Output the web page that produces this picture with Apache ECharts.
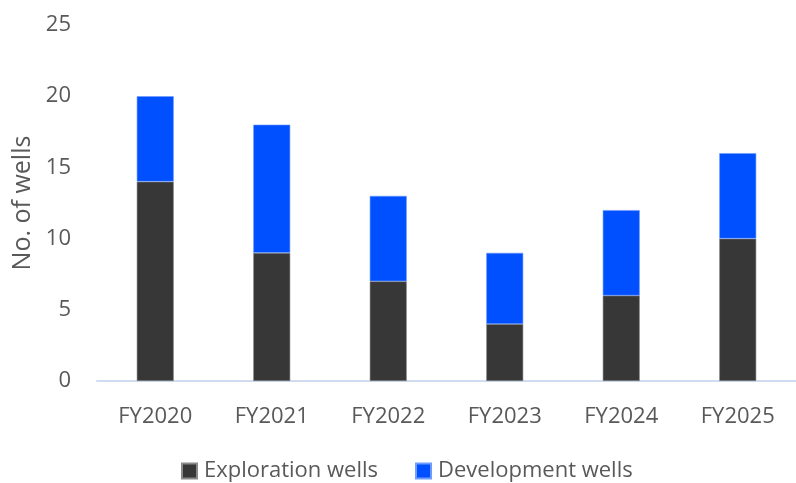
<!DOCTYPE html>
<html><head><meta charset="utf-8">
<script src="https://cdn.jsdelivr.net/npm/echarts@6/dist/echarts.min.js"></script>
<style>html,body{margin:0;padding:0;background:#fff}#c{width:796px;height:483px}</style>
</head><body><div id="c"></div>
<script>
const categories = ['FY2020','FY2021','FY2022','FY2023','FY2024','FY2025'];
const exploration = [14, 9, 7, 4, 6, 10];
const development = [6, 9, 6, 5, 6, 6];
const yTicks = [0, 5, 10, 15, 20, 25];

const chart = echarts.init(document.getElementById('c'));
const font = '"Open Sans", "Noto Sans", sans-serif';
chart.setOption({
  animation: false,
  grid: { left: 97, top: 25, width: 706, height: 356, containLabel: false },
  legend: {
    top: 455, left: 176,
    itemWidth: 15, itemHeight: 15, itemGap: 37,
    icon: 'rect',
    textStyle: { fontFamily: font, fontSize: 22, color: '#595959', padding: [0, 0, 0, 2] },
    data: ['Exploration wells', 'Development wells']
  },
  xAxis: {
    type: 'category', data: categories,
    axisLine: { lineStyle: { color: '#d0dcf2', width: 2 } },
    axisTick: { show: false },
    axisLabel: { fontFamily: font, fontSize: 22, color: '#595959', margin: 25 }
  },
  yAxis: {
    type: 'value', min: 0, max: 25, interval: 5,
    name: 'No. of wells', nameLocation: 'middle', nameGap: 55, nameRotate: 90,
    nameTextStyle: { fontFamily: font, fontSize: 25, color: '#595959' },
    splitLine: { show: false },
    axisLine: { show: false },
    axisTick: { show: false },
    axisLabel: { fontFamily: font, fontSize: 22, color: '#595959', margin: 26,
      formatter: v => yTicks.includes(v) ? String(v) : '' }
  },
  series: [
    { name: 'Exploration wells', type: 'bar', stack: 'w', data: exploration, barWidth: 37,
      itemStyle: { color: '#373737', borderColor: '#8a8a8a', borderWidth: 0.6 } },
    { name: 'Development wells', type: 'bar', stack: 'w', data: development, barWidth: 37,
      itemStyle: { color: '#0050ff', borderColor: '#6f9cff', borderWidth: 0.6 } }
  ]
});
</script></body></html>
